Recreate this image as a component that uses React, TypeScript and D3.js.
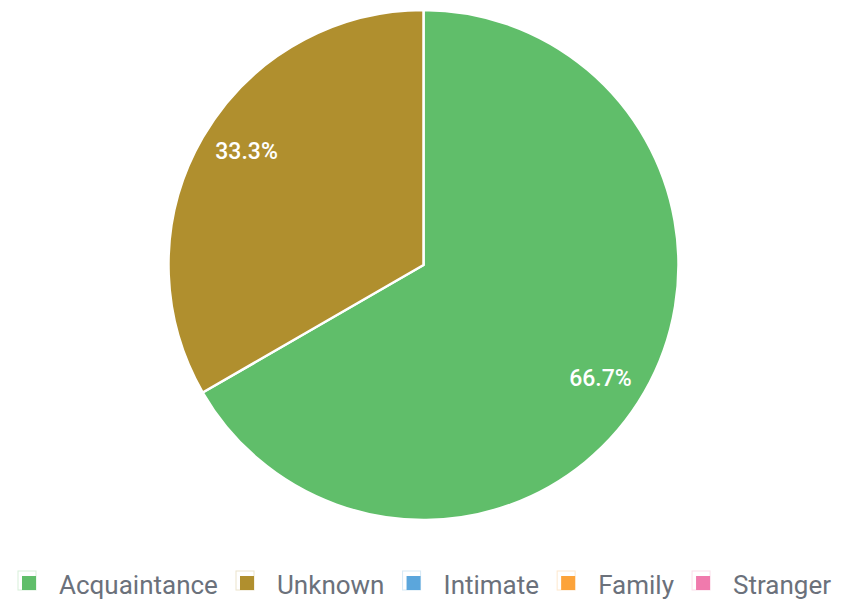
import React from "react";
import * as d3 from "d3";

const categories = ["Acquaintance", "Unknown", "Intimate", "Family", "Stranger"];
const values = [2, 1, 0, 0, 0];
const colors = ["#60be6a", "#b08f2e", "#5ba6dc", "#fca33a", "#f07aad"];

const W = 853;
const H = 610;
const CX = 423.5;
const CY = 265;
const R = 255;

function measure(text: string, font: string): number {
  const c = document.createElement("canvas");
  const ctx = c.getContext("2d")!;
  ctx.font = font;
  return ctx.measureText(text).width;
}

export default function App() {
  const data = categories.map((c, i) => ({ name: c, value: values[i], color: colors[i] }));
  const pie = d3.pie<any>().value((d) => d.value).sort(null);
  const arcs = pie(data.filter((d) => d.value > 0));
  const arc = d3.arc<any>().innerRadius(0).outerRadius(R);
  const total = d3.sum(values);

  const legendFont = "26px Roboto";
  const boxW = 14;
  const gapBoxText = 23;
  const gapItems = 23;
  const widths = categories.map((c) => measure(c, legendFont));
  const itemWidths = widths.map((w) => boxW + gapBoxText + w);
  const totalW = d3.sum(itemWidths) + gapItems * (categories.length - 1);
  let x0 = 22;
  const scaleGap = (831 - 22 - totalW) / (categories.length - 1);
  const legendItems = categories.map((c, i) => {
    const x = x0;
    x0 += itemWidths[i] + gapItems + scaleGap;
    return { name: c, x, color: colors[i] };
  });

  return (
    <svg width={W} height={H} style={{ position: "absolute", left: 0, top: 0 }}>
      <g transform={`translate(${CX},${CY})`}>
        {arcs.map((a, i) => (
          <path key={i} d={arc(a) as string} fill={a.data.color} stroke="#fff" strokeWidth={2.5} strokeLinejoin="round" />
        ))}
        {arcs.map((a, i) => {
          const mid = (a.startAngle + a.endAngle) / 2 + 0.045;
          const lr = 210;
          const x = Math.sin(mid) * lr;
          const y = -Math.cos(mid) * lr;
          return (
            <text
              key={"l" + i}
              x={x}
              y={y}
              textAnchor="middle"
              dominantBaseline="central"
              fill="#fff"
              fontFamily="Roboto"
              fontWeight={500}
              fontSize={23}
            >
              {((a.data.value / total) * 100).toFixed(1) + "%"}
            </text>
          );
        })}
      </g>
      <g>
        {legendItems.map((it) => (
          <g key={it.name} transform={`translate(${it.x},576)`}>
            <rect x={-4} y={-5} width={18} height={19} fill="none" stroke={it.color} strokeOpacity={0.25} strokeWidth={1} />
            <rect x={0} y={0} width={boxW} height={14} fill={it.color} />
            <text
              x={boxW + gapBoxText}
              y={9}
              dominantBaseline="central"
              fill="#6b717b"
              fontFamily="Roboto"
              fontSize={26}
            >
              {it.name}
            </text>
          </g>
        ))}
      </g>
    </svg>
  );
}
